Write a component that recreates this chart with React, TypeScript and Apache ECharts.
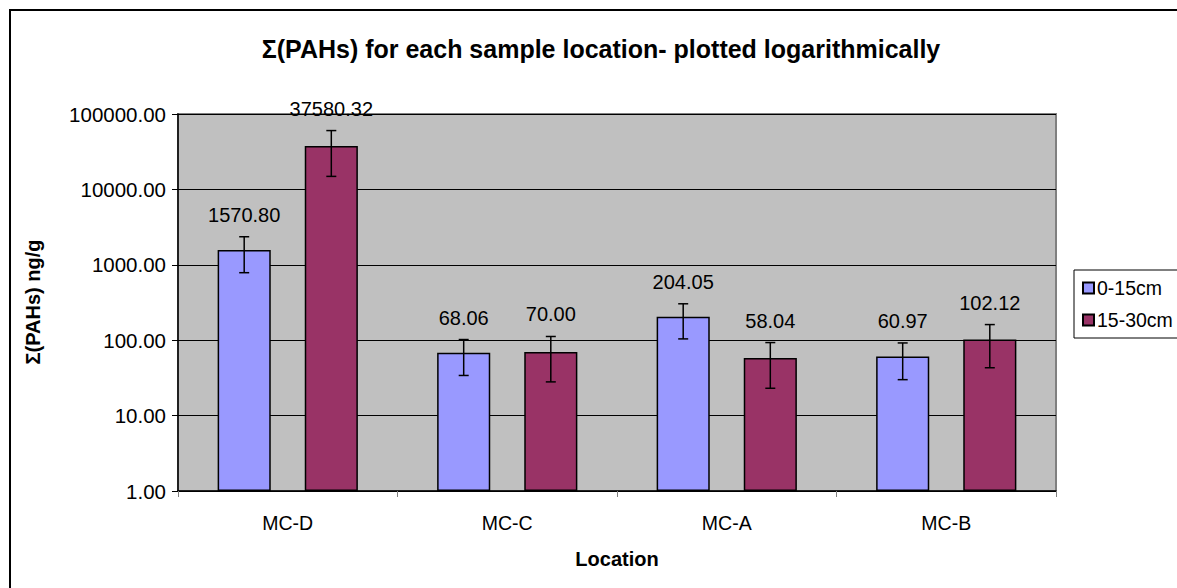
import React, { useEffect, useRef } from "react";
import * as echarts from "echarts";

const categories = ["MC-D", "MC-C", "MC-A", "MC-B"];
const seriesNames = ["0-15cm", "15-30cm"];
const shallowValues = [1570.8, 68.06, 204.05, 60.97];
const deepValues = [37580.32, 70.0, 58.04, 102.12];
const shallowErrors = [785, 34, 100, 31];
const deepErrors = [22700, 42, 35, 59];
const yTicks = [1, 10, 100, 1000, 10000, 100000];

const FONT = 'Arial, "Liberation Sans", sans-serif';
const BAR_W = 0.242;
const BAR_GAP = 0.64;

function errorSeries(values: number[], errors: number[], side: number) {
  const data = values.map((v, i) => [i, v, v - errors[i], v + errors[i]]);
  return {
    type: "custom",
    name: seriesNames[side < 0 ? 0 : 1] + "-err",
    z: 10,
    silent: true,
    data,
    renderItem: (params: any, api: any) => {
      const idx = api.value(0);
      const v = api.value(1);
      const lo = api.value(2);
      const hi = api.value(3);
      const band = api.size([1, 0])[0];
      const off = (side * band * BAR_W * (1 + BAR_GAP)) / 2;
      const pHi = api.coord([idx, hi]);
      const pLo = api.coord([idx, lo]);
      const x = pHi[0] + off;
      const cap = 5;
      const st = { stroke: "#000", lineWidth: 1.5 };
      return {
        type: "group",
        children: [
          { type: "line", shape: { x1: x, y1: pHi[1], x2: x, y2: pLo[1] }, style: st },
          { type: "line", shape: { x1: x - cap, y1: pHi[1], x2: x + cap, y2: pHi[1] }, style: st },
          { type: "line", shape: { x1: x - cap, y1: pLo[1], x2: x + cap, y2: pLo[1] }, style: st },
          {
            type: "text",
            x: x,
            y: pHi[1] - 12,
            style: {
              text: v.toFixed(2),
              fill: "#000",
              font: `20px ${FONT}`,
              align: "center",
              verticalAlign: "bottom",
            },
          },
        ],
      };
    },
  };
}

export default function App() {
  const ref = useRef<HTMLDivElement>(null);
  useEffect(() => {
    if (!ref.current) return;
    const chart = echarts.init(ref.current, undefined, { renderer: "svg" });
    chart.setOption({
      animation: false,
      backgroundColor: "#fff",
      textStyle: { fontFamily: FONT },
      title: {
        text: "Σ(PAHs) for each sample location- plotted logarithmically",
        left: 596,
        textAlign: "center",
        top: 31,
        textStyle: { fontFamily: FONT, fontSize: 25, fontWeight: "bold", color: "#000" },
      },
      graphic: [
        {
          type: "rect",
          shape: { x: 10, y: 10, width: 1200, height: 620 },
          style: { fill: "none", stroke: "#000", lineWidth: 2 },
          z: -1,
        },
        {
          type: "text",
          x: 33,
          y: 302,
          rotation: Math.PI / 2,
          style: {
            text: "Σ(PAHs) ng/g",
            font: `bold 20px ${FONT}`,
            fill: "#000",
            align: "center",
            verticalAlign: "middle",
          },
        },
      ],
      legend: {
        left: 1074,
        top: 270,
        orient: "vertical",
        data: seriesNames,
        itemWidth: 11,
        itemHeight: 11,
        itemGap: 12,
        padding: [8, 40, 8, 8],
        borderColor: "#000",
        borderWidth: 1,
        backgroundColor: "#fff",
        icon: "rect",
        textStyle: { fontFamily: FONT, fontSize: 19.5, color: "#000", lineHeight: 20, padding: [0, 0, 0, -2] },
      },
      grid: { left: 178, right: 121, top: 114, bottom: 97, show: true, backgroundColor: "#C0C0C0", borderColor: "#808080", borderWidth: 2 },
      xAxis: {
        type: "category",
        data: categories,
        name: "Location",
        nameLocation: "middle",
        nameGap: 58,
        nameTextStyle: { fontFamily: FONT, fontSize: 20, fontWeight: "bold", color: "#000" },
        axisLine: { lineStyle: { color: "#000", width: 1.5 } },
        axisTick: { show: true, length: 6, lineStyle: { color: "#808080" } },
        axisLabel: { fontFamily: FONT, fontSize: 19.5, color: "#000", margin: 22 },
      },
      yAxis: {
        type: "log",
        logBase: 10,
        min: yTicks[0],
        max: yTicks[yTicks.length - 1],
        splitNumber: 5,
        axisLine: { show: true, lineStyle: { color: "#000", width: 1.5 } },
        axisTick: { show: true, length: 6, lineStyle: { color: "#000" } },
        axisLabel: { fontFamily: FONT, fontSize: 20.5, color: "#000", margin: 12, formatter: (v: number) => v.toFixed(2) },
        splitLine: { show: true, lineStyle: { color: "#000", width: 1 } },
      },
      series: [
        {
          type: "bar",
          name: seriesNames[0],
          data: shallowValues,
          barWidth: BAR_W * 100 + "%",
          barGap: BAR_GAP * 100 + "%",
          itemStyle: { color: "#9999FF", borderColor: "#000", borderWidth: 1.5 },
        },
        {
          type: "bar",
          name: seriesNames[1],
          data: deepValues,
          barWidth: BAR_W * 100 + "%",
          barGap: BAR_GAP * 100 + "%",
          itemStyle: { color: "#993366", borderColor: "#000", borderWidth: 1.5 },
        },
        errorSeries(shallowValues, shallowErrors, -1),
        errorSeries(deepValues, deepErrors, 1),
      ],
    });
    return () => chart.dispose();
  }, []);
  return <div ref={ref} style={{ position: "fixed", left: 0, top: 0, width: 1177, height: 588 }} />;
}
